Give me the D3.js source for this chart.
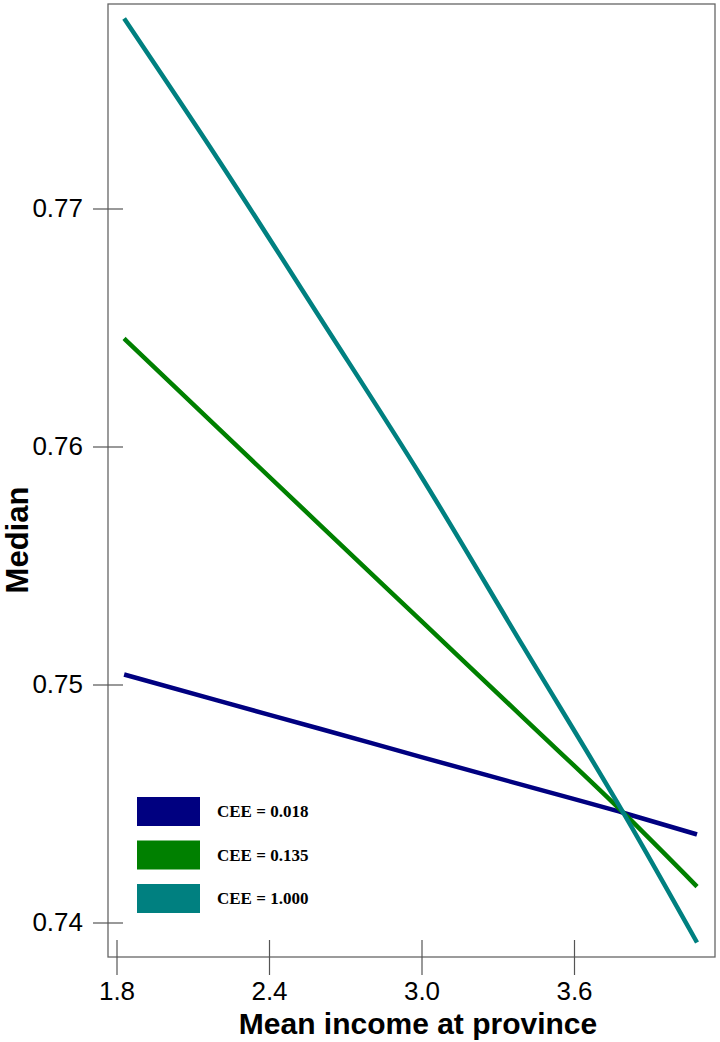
<!DOCTYPE html>
<html>
<head>
<meta charset="utf-8">
<script src="https://cdn.jsdelivr.net/npm/d3@7"></script>
<style>
  body { margin: 0; background: #fff; }
  svg { display: block; }
</style>
</head>
<body>
<svg id="chart" width="720" height="1042"></svg>
<script>
// data
const income = [1.83, 2.2, 2.6, 3.0, 3.4, 3.8, 4.084];
const ceeLow = [0.75042, 0.74932, 0.74814, 0.74695, 0.74577, 0.74459, 0.74370];
const ceeMid = [0.76454, 0.76077, 0.75671, 0.75266, 0.74861, 0.74455, 0.74151];
const ceeHigh = [0.77798, 0.77206, 0.76542, 0.75872, 0.75160, 0.74450, 0.73916];

const seriesNames = ["CEE = 0.018", "CEE = 0.135", "CEE = 1.000"];
const seriesColors = ["#000080", "#008000", "#008080"];
const xTicks = [1.8, 2.4, 3.0, 3.6];
const yTicks = [0.74, 0.75, 0.76, 0.77];

const series = [ceeLow, ceeMid, ceeHigh].map(function(vals, i) {
    return {
        name: seriesNames[i],
        color: seriesColors[i],
        points: vals.map(function(v, j) { return { x: income[j], y: v }; })
    };
});

const svg = d3.select("#chart");

// plot frame
const frameL = 108, frameR = 715, frameT = 4, frameB = 957;

const x = d3.scaleLinear()
    .domain([1.8, 3.6])
    .range([116.5, 574]);

const y = d3.scaleLinear()
    .domain([0.74, 0.77])
    .range([922.5, 208.5]);

svg.append("rect")
    .attr("x", frameL)
    .attr("y", frameT)
    .attr("width", frameR - frameL)
    .attr("height", frameB - frameT)
    .style("fill", "none")
    .style("stroke", "#666")
    .style("stroke-width", 1.3);

// y axis: ticks cross the left edge of the frame
const yAxis = svg.append("g")
    .attr("transform", "translate(" + (frameL + 15) + ",0)")
    .call(d3.axisLeft(y).tickValues(yTicks).tickSize(30).tickPadding(10)
        .tickFormat(d3.format(".2f")));
yAxis.select(".domain").remove();
yAxis.selectAll(".tick line").style("stroke", "#555").style("stroke-width", 1.2);
yAxis.selectAll(".tick text")
    .style("font-family", "'Liberation Sans', Arial, sans-serif")
    .style("font-size", "26px")
    .style("fill", "#000");

// x axis: ticks cross the bottom edge of the frame
const xAxis = svg.append("g")
    .attr("transform", "translate(0," + (frameB - 17) + ")")
    .call(d3.axisBottom(x).tickValues(xTicks).tickSize(35).tickPadding(7)
        .tickFormat(d3.format(".1f")));
xAxis.select(".domain").remove();
xAxis.selectAll(".tick line").style("stroke", "#555").style("stroke-width", 1.2);
xAxis.selectAll(".tick text")
    .style("font-family", "'Liberation Sans', Arial, sans-serif")
    .style("font-size", "26px")
    .style("fill", "#000");

// axis titles
svg.append("text")
    .attr("x", 418)
    .attr("y", 1034)
    .attr("text-anchor", "middle")
    .style("font-family", "'Liberation Sans', Arial, sans-serif")
    .style("font-weight", "bold")
    .style("font-size", "30px")
    .text("Mean income at province");

svg.append("text")
    .attr("transform", "translate(28,540) rotate(-90)")
    .attr("text-anchor", "middle")
    .style("font-family", "'Liberation Sans', Arial, sans-serif")
    .style("font-weight", "bold")
    .style("font-size", "31px")
    .text("Median");

// lines
const line = d3.line()
    .x(function(d) { return x(d.x); })
    .y(function(d) { return y(d.y); })
    .curve(d3.curveMonotoneX);

svg.append("g")
    .selectAll("path")
    .data(series)
    .join("path")
    .attr("d", function(d) { return line(d.points); })
    .style("fill", "none")
    .style("stroke", function(d) { return d.color; })
    .style("stroke-width", 4.5);

// legend
const legend = svg.append("g")
    .selectAll("g")
    .data(series)
    .join("g")
    .attr("transform", function(d, i) { return "translate(137," + (797 + i * 43.5) + ")"; });

legend.append("rect")
    .attr("width", 63)
    .attr("height", 29)
    .style("fill", function(d) { return d.color; });

legend.append("text")
    .attr("x", 80)
    .attr("y", 20)
    .style("font-family", "'Liberation Serif', 'Times New Roman', serif")
    .style("font-weight", "bold")
    .style("font-size", "17px")
    .text(function(d) { return d.name; });
</script>
</body>
</html>
